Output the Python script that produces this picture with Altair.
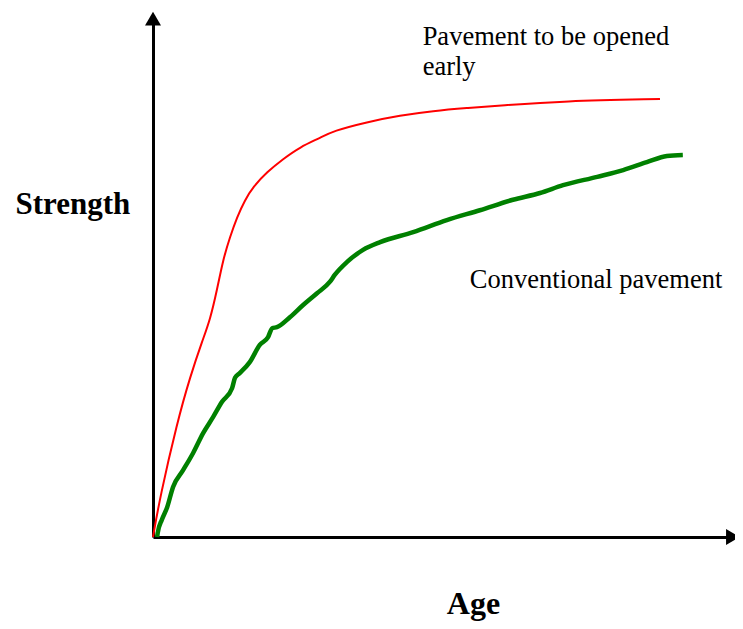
import altair as alt
import pandas as pd

# Curve read-offs (Age and Strength in relative units)
early_age = [0, 1.19, 4.07, 6.27, 8.47, 9.66, 10.85, 11.86, 13.05, 14.24, 15.59,
             16.95, 19.32, 22.03, 24.92, 28.31, 30.51, 36.27, 41.86, 47.46,
             53.22, 58.81, 69.49, 85.93]
early_strength = [0, 7.66, 21.84, 30.65, 37.93, 41.57, 47.32, 53.07, 57.47, 61.30,
                  64.56, 67.05, 69.92, 72.41, 74.71, 76.44, 77.78, 79.50, 80.75,
                  81.61, 82.18, 82.66, 83.52, 83.91]

conv_age = [0.7, 0.8, 1.5, 2.4, 3.4, 5.1, 6.8, 8.5, 10.2, 11.7, 13.4, 13.9, 14.7,
            16.4, 18.1, 19.5, 20.2, 21.0, 23.2, 25.4, 27.8, 30.0, 30.8, 32.9,
            35.6, 38.5, 44.1, 49.8, 55.4, 61.0, 65.6, 69.5, 75.3, 79.7, 83.7,
            87.1, 89.8]
conv_strength = [0, 0.8, 3.3, 5.7, 9.6, 12.8, 16.1, 19.9, 23.0, 25.9, 28.5, 30.5,
                 31.4, 33.5, 36.8, 38.3, 40.0, 40.2, 42.1, 44.4, 46.7, 48.9, 50.2,
                 52.7, 55.0, 56.5, 58.4, 60.7, 62.6, 64.6, 65.9, 67.4, 69.0, 70.3,
                 71.8, 73.0, 73.2]

label_text = ["Pavement to be opened\nearly", "Conventional pavement"]
label_age = [45.7, 53.7]
label_strength = [94.3, 47.7]

arrow_age = [0, 98.3]
arrow_strength = [99.3, 0]
arrow_shape = ["triangle-up", "triangle-right"]

early = pd.DataFrame({"Age": early_age, "Strength": early_strength})
conv = pd.DataFrame({"Age": conv_age, "Strength": conv_strength})
labels = pd.DataFrame({"Age": label_age, "Strength": label_strength, "text": label_text})
arrows = pd.DataFrame({"Age": arrow_age, "Strength": arrow_strength, "shape": arrow_shape})

FONT = "Liberation Serif"

xs = alt.Scale(domain=[0, 98.644], nice=False, zero=False)
ys = alt.Scale(domain=[0, 100], nice=False, zero=False)

x_axis = alt.Axis(title="Age", ticks=False, labels=False, grid=False,
                  domainColor="black", domainWidth=3,
                  titleFont=FONT, titleFontSize=32, titleFontWeight="bold",
                  titleColor="black", titleX=320, titleY=76,
                  titleAlign="center", titleBaseline="alphabetic")
y_axis = alt.Axis(title="Strength", ticks=False, labels=False, grid=False,
                  domainColor="black", domainWidth=3,
                  titleFont=FONT, titleFontSize=31, titleFontWeight="bold",
                  titleColor="black", titleAngle=0, titleX=-138, titleY=198,
                  titleAlign="left", titleBaseline="alphabetic")

base_x = alt.X("Age:Q", scale=xs, axis=x_axis)
base_y = alt.Y("Strength:Q", scale=ys, axis=y_axis)

early_line = alt.Chart(early).mark_line(color="#ff0000", strokeWidth=2,
                                        interpolate="basis").encode(x=base_x, y=base_y)
conv_line = alt.Chart(conv).mark_line(color="#008000", strokeWidth=4.5,
                                      interpolate="monotone").encode(
    x=alt.X("Age:Q", scale=xs), y=alt.Y("Strength:Q", scale=ys))

arrow_pts = alt.Chart(arrows).mark_point(filled=True, opacity=1, color="black",
                                         size=256, strokeWidth=0).encode(
    x=alt.X("Age:Q", scale=xs), y=alt.Y("Strength:Q", scale=ys),
    shape=alt.Shape("shape:N", scale=None))

text = alt.Chart(labels).mark_text(font=FONT, fontSize=26.5, color="black",
                                   align="left", baseline="alphabetic",
                                   lineBreak="\n", lineHeight=30).encode(
    x=alt.X("Age:Q", scale=xs), y=alt.Y("Strength:Q", scale=ys), text="text:N")

chart = alt.layer(early_line, conv_line, arrow_pts, text).properties(
    width=582, height=522,
    autosize="none",
    padding={"left": 145, "top": 7, "right": 0, "bottom": 84},
    background="white",
).configure_view(stroke=None)

chart.save("out.html", embed_options={"renderer": "svg", "actions": False})
